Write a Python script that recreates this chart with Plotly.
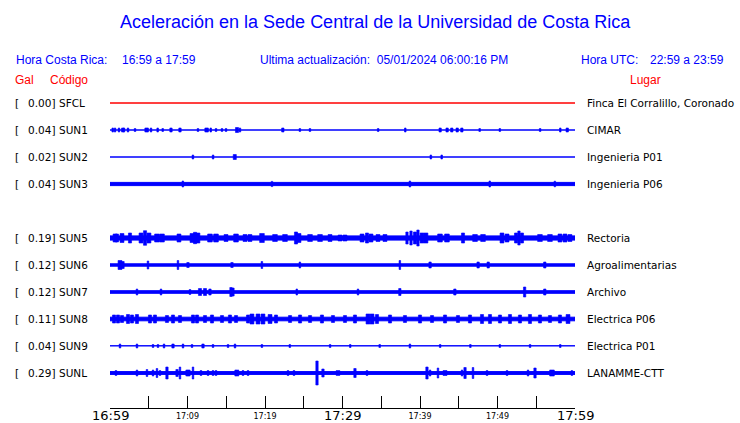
import plotly.graph_objects as go

W, H = 740, 423

# ---------------- data ----------------
codes = ["SFCL", "SUN1", "SUN2", "SUN3", "SUN5", "SUN6", "SUN7", "SUN8", "SUN9", "SUNL"]
peak_gal = [0.00, 0.04, 0.02, 0.04, 0.19, 0.12, 0.12, 0.11, 0.04, 0.29]
places = ["Finca El Corralillo, Coronado", "CIMAR", "Ingenieria P01", "Ingenieria P06",
          "Rectoria", "Agroalimentarias", "Archivo", "Electrica P06", "Electrica P01", "LANAMME-CTT"]
row_index = [0, 1, 2, 3, 5, 6, 7, 8, 9, 10]
trace_colors = ["#ff0000"] + ["#0000ff"] * 9

# background (noise) half-amplitude of each trace, display units (27 = one row)
base_amp = [0.0, 0.0, 0.0, 1.6, 2.1, 1.2, 1.3, 1.8, 0.2, 1.4]

# bursts: (minutes after 16:59, half-amplitude, duration in minutes)
bursts_SFCL = []
bursts_SUN1 = [(0.35, 2, 0.2), (0.65, 2, 0.2), (1.16, 2, 0.2), (1.64, 2, 0.3), (1.81, 2, 0.2), (2.32, 2, 0.2),
               (3.23, 1.5, 0.2), (4.65, 2, 0.3), (4.86, 2, 0.2), (5.29, 2, 0.2), (6.15, 2, 0.2), (6.8, 1.5, 0.2),
               (7.87, 2, 0.3), (9.03, 2, 0.3), (11.35, 1.5, 0.2), (12.39, 2, 0.3), (12.6, 2, 0.2), (13.0, 2, 0.2),
               (13.68, 1.5, 0.2), (14.45, 1.5, 0.2), (14.97, 1.5, 0.2), (16.39, 2.5, 0.4), (16.77, 2, 0.2),
               (22.3, 2, 0.3), (24.5, 1.5, 0.2), (25.8, 1.5, 0.2), (34.6, 1.5, 0.2), (38.1, 2, 0.2),
               (42.6, 2, 0.3), (43.5, 2, 0.3), (44.1, 2, 0.3), (44.8, 2, 0.3), (45.4, 2, 0.3), (47.7, 1.5, 0.2),
               (50.3, 1.5, 0.2), (55.5, 1.5, 0.2), (58.1, 2, 0.2), (59.0, 2, 0.3)]
bursts_SUN2 = [(10.7, 2, 0.2), (13.3, 2, 0.2), (16.1, 2.5, 0.4), (41.4, 2, 0.2), (42.8, 2, 0.2)]
bursts_SUN3 = [(9.4, 3, 0.2), (20.9, 2.6, 0.2), (38.7, 3, 0.2), (49.0, 3, 0.2), (57.4, 2.8, 0.2)]
bursts_SUN5 = [(0.65, 4, 0.5), (0.9, 4, 0.4), (1.55, 4.5, 0.5), (2.58, 5, 0.4), (4.0, 5, 0.5), (4.52, 7.3, 0.4),
               (5.03, 5, 0.5), (6.06, 4, 0.6), (6.71, 4, 0.6), (8.9, 4, 0.5), (10.58, 4.5, 0.5), (10.97, 5.7, 0.4),
               (11.35, 5, 0.5), (12.9, 4, 0.6), (13.68, 4, 0.6), (14.97, 3.5, 0.5), (16.26, 4, 0.6),
               (17.42, 3.5, 0.5), (18.06, 3.5, 0.5), (19.61, 4.5, 0.6), (21.29, 3.5, 0.6), (22.58, 3.5, 0.6),
               (24.0, 6, 0.4), (24.39, 4.5, 0.5), (25.81, 3.5, 0.6), (27.1, 3.5, 0.6), (28.39, 3.5, 0.5),
               (29.68, 3, 0.5), (30.32, 3, 0.5), (32.52, 4, 0.5), (33.16, 5, 0.4), (33.68, 4, 0.5),
               (34.58, 3.5, 0.5), (35.48, 3.5, 0.5), (38.32, 6, 0.3), (38.84, 7, 0.3), (39.35, 6, 0.4),
               (39.74, 8, 0.3), (40.26, 5, 0.5), (40.77, 5, 0.5), (42.58, 4, 0.6), (43.48, 4, 0.6),
               (45.55, 5, 0.4), (47.1, 3.5, 0.6), (48.13, 3.5, 0.6), (50.58, 5, 0.5), (51.23, 4, 0.5),
               (52.39, 5, 0.4), (52.77, 7, 0.3), (53.16, 5, 0.4), (55.48, 3.5, 0.6), (56.77, 3.5, 0.6),
               (58.06, 4, 0.5), (58.71, 4, 0.5), (59.35, 3.5, 0.5)]
bursts_SUN6 = [(1.29, 4.5, 0.5), (1.68, 3.5, 0.3), (4.9, 4, 0.2), (8.77, 4.5, 0.2), (10.06, 2.5, 0.3),
               (15.74, 2.5, 0.3), (19.6, 3.5, 0.2), (24.5, 3, 0.2), (37.4, 4.5, 0.2), (41.3, 3, 0.3),
               (47.5, 3, 0.3), (48.8, 3, 0.3), (56.1, 3, 0.3)]
bursts_SUN7 = [(3.48, 3, 0.2), (6.58, 3, 0.2), (10.32, 2.5, 0.2), (11.61, 3.5, 0.4), (12.26, 3.5, 0.4),
               (12.9, 3, 0.3), (15.61, 4.5, 0.3), (15.87, 4, 0.3), (24.1, 3, 0.2), (32.0, 3, 0.2),
               (37.4, 3.5, 0.3), (44.5, 3, 0.3), (53.5, 5, 0.3), (56.1, 3, 0.3)]
bursts_SUN8 = [(0.52, 4, 0.4), (1.03, 4, 0.4), (1.55, 3.5, 0.4), (2.32, 4.5, 0.4), (2.84, 4, 0.4),
               (3.48, 4.5, 0.4), (5.16, 4, 0.4), (5.8, 4, 0.4), (7.35, 3.5, 0.4), (8.13, 4, 0.4),
               (9.03, 3.5, 0.4), (10.71, 4, 0.4), (11.23, 4, 0.4), (12.26, 3.5, 0.4), (13.16, 4, 0.4),
               (14.45, 3.5, 0.4), (15.48, 4, 0.4), (16.26, 3.5, 0.4), (17.81, 4, 0.4), (18.32, 5, 0.5),
               (19.1, 5, 0.5), (19.74, 5, 0.5), (20.65, 4.5, 0.5), (21.42, 4, 0.4), (23.23, 3.5, 0.4),
               (24.52, 4, 0.4), (25.81, 3.5, 0.4), (27.35, 4, 0.4), (28.77, 3.5, 0.4), (30.32, 3.5, 0.4),
               (31.61, 4, 0.4), (33.29, 5, 0.5), (33.81, 5, 0.5), (34.45, 4.5, 0.4), (36.13, 4, 0.4),
               (38.06, 3.5, 0.4), (40.0, 4, 0.4), (41.55, 3.5, 0.4), (43.23, 4, 0.4), (44.9, 3.5, 0.4),
               (46.45, 4, 0.4), (48.0, 4.5, 0.4), (49.03, 4.5, 0.4), (50.32, 4, 0.4), (51.61, 4.5, 0.4),
               (52.9, 4, 0.4), (54.19, 4.5, 0.4), (55.48, 4, 0.4), (56.77, 3.5, 0.4), (58.06, 4, 0.4),
               (59.1, 4.5, 0.5)]
bursts_SUN9 = [(1.29, 2, 0.2), (3.48, 2, 0.2), (5.55, 1.5, 0.2), (6.19, 1.5, 0.2), (6.97, 2, 0.2),
               (8.13, 2, 0.3), (9.42, 2, 0.2), (10.58, 1.5, 0.2), (12.0, 2, 0.3), (13.29, 1.5, 0.2),
               (15.23, 1.5, 0.2), (16.13, 2, 0.2), (19.6, 1.5, 0.2), (23.2, 1.5, 0.2), (28.4, 1.5, 0.2),
               (31.0, 1.5, 0.2), (34.8, 1.5, 0.2), (38.7, 2, 0.2), (42.6, 1.5, 0.2), (46.5, 1.5, 0.2),
               (50.3, 1.5, 0.2), (54.2, 1.5, 0.2), (58.1, 1.5, 0.2)]
bursts_SUNL = [(0.77, 2.5, 0.2), (3.48, 3, 0.2), (4.77, 3.5, 0.2), (5.55, 3, 0.2), (6.06, 4.5, 0.2),
               (6.45, 2.5, 0.2), (7.35, 6, 0.3), (8.65, 3.5, 0.3), (9.03, 6, 0.2), (9.94, 3, 0.3),
               (10.19, 3, 0.3), (10.71, 6, 0.2), (11.74, 2.5, 0.2), (12.65, 2.5, 0.2), (13.29, 2.5, 0.2),
               (13.68, 2.5, 0.2), (16.26, 3, 0.3), (16.52, 3, 0.2), (17.16, 2.5, 0.2), (17.81, 2.5, 0.2),
               (22.97, 2.5, 0.2), (23.74, 2.5, 0.2), (26.71, 12, 0.3), (27.48, 4, 0.3), (29.29, 2.5, 0.2),
               (29.55, 2.5, 0.2), (31.61, 4.5, 0.3), (33.16, 2.5, 0.2), (40.9, 6, 0.3), (41.3, 3, 0.2),
               (42.32, 5, 0.2), (43.23, 2.5, 0.5), (45.42, 3, 0.2), (45.81, 5.5, 0.3), (46.84, 5.5, 0.2),
               (48.65, 2.5, 0.2), (51.23, 2.5, 0.2), (53.94, 3, 0.2), (54.84, 5, 0.3), (57.03, 3, 0.6),
               (59.6, 2.5, 0.2)]
bursts = [bursts_SFCL, bursts_SUN1, bursts_SUN2, bursts_SUN3, bursts_SUN5,
          bursts_SUN6, bursts_SUN7, bursts_SUN8, bursts_SUN9, bursts_SUNL]

tick_minutes = list(range(0, 61, 5))
tick_small = ["", "", "17:09", "", "17:19", "", "", "", "17:39", "", "17:49", "", ""]
major_minutes = [0, 30, 60]
major_labels = ["16:59", "17:29", "17:59"]

title = "Aceleración en la Sede Central de la Universidad de Costa Rica"
hdr_cr = "Hora Costa Rica:"
hdr_cr_t = "16:59 a 17:59"
hdr_upd = "Ultima actualización:  05/01/2024 06:00:16 PM"
hdr_utc = "Hora UTC:"
hdr_utc_t = "22:59 a 23:59"

# ---------------- layout geometry ----------------
ROW_PX = 27.0
ROW0_PX = 103.0
X0_PX, X1_PX = 110.0, 575.0
T_END = 60.0


def py_to_paper(py):
    return 1 - py / H


def px_to_paper(px):
    return px / W


y_top = -ROW0_PX / ROW_PX
y_bot = (H - ROW0_PX) / ROW_PX

fig = go.Figure()

for code, row, col, b, bl in zip(codes, row_index, trace_colors, base_amp, bursts):
    a = b / ROW_PX
    # background noise band
    fig.add_trace(go.Scatter(
        x=[0, T_END, T_END, 0, 0], y=[row - a, row - a, row + a, row + a, row - a],
        mode="lines", fill="toself", fillcolor=col, line=dict(color=col, width=1),
        hoverinfo="skip", showlegend=False))
    if bl:
        xs, ys = [], []
        for t, amp, dur in bl:
            h = amp / ROW_PX
            x0, x1 = t - dur / 2, t + dur / 2
            xs += [x0, x1, x1, x0, x0, None]
            ys += [row - h, row - h, row + h, row + h, row - h, None]
        fig.add_trace(go.Scatter(
            x=xs, y=ys, mode="lines", fill="toself", fillcolor=col,
            line=dict(color=col, width=0.6), hoverinfo="skip", showlegend=False))

ann = []
LAB_FONT = dict(family="DejaVu Sans", size=10.5, color="black")
for code, g, place, row in zip(codes, peak_gal, places, row_index):
    yp = py_to_paper(ROW0_PX + row * ROW_PX)
    ann.append(dict(x=px_to_paper(14), y=yp, text="[", xanchor="left", font=LAB_FONT))
    ann.append(dict(x=px_to_paper(55.5), y=yp, text=f"{g:.2f}]", xanchor="right", font=LAB_FONT))
    ann.append(dict(x=px_to_paper(58), y=yp, text=code, xanchor="left", font=LAB_FONT))
    ann.append(dict(x=px_to_paper(586), y=yp, text=place, xanchor="left", font=LAB_FONT))

HF = "Liberation Sans"
ann.append(dict(x=px_to_paper(375), y=py_to_paper(22), text=title, xanchor="center",
                font=dict(family=HF, size=18, color="#0000ff")))
hdr = [(15, hdr_cr), (121, hdr_cr_t), (259, hdr_upd), (580, hdr_utc), (649, hdr_utc_t)]
for xpx, txt in hdr:
    ann.append(dict(x=px_to_paper(xpx), y=py_to_paper(60), text=txt, xanchor="left",
                    font=dict(family=HF, size=12, color="#0000ff")))
for xpx, txt in [(14, "Gal"), (49, "Código"), (629, "Lugar")]:
    ann.append(dict(x=px_to_paper(xpx), y=py_to_paper(80), text=txt, xanchor="left",
                    font=dict(family=HF, size=12, color="#ff0000")))
for m, lab in zip(major_minutes, major_labels):
    ann.append(dict(x=m, xref="x", y=py_to_paper(415.5), yref="paper", text=lab,
                    xanchor="center", yanchor="middle",
                    font=dict(family="DejaVu Sans", size=13, color="black")))

for a_ in ann:
    a_.setdefault("xref", "paper")
    a_.setdefault("yref", "paper")
    a_.setdefault("yanchor", "middle")
    a_["showarrow"] = False
    a_["borderpad"] = 0

fig.update_layout(
    width=W, height=H, margin=dict(l=0, r=0, t=0, b=0),
    paper_bgcolor="white", plot_bgcolor="white",
    xaxis=dict(domain=[px_to_paper(X0_PX), px_to_paper(X1_PX)], range=[0, T_END],
               anchor="free", position=py_to_paper(408),
               showgrid=False, zeroline=False, showline=True, linecolor="black", linewidth=1,
               ticks="inside", ticklen=12, tickcolor="black", tickwidth=1,
               tickmode="array", tickvals=tick_minutes, ticktext=tick_small,
               tickfont=dict(family="DejaVu Sans", size=8, color="black")),
    yaxis=dict(domain=[0, 1], range=[y_bot, y_top], visible=False),
    annotations=ann,
)

fig.write_html("out.html", config={"displayModeBar": False},
               post_script="document.body.style.margin='0';document.body.style.overflow='hidden';")
